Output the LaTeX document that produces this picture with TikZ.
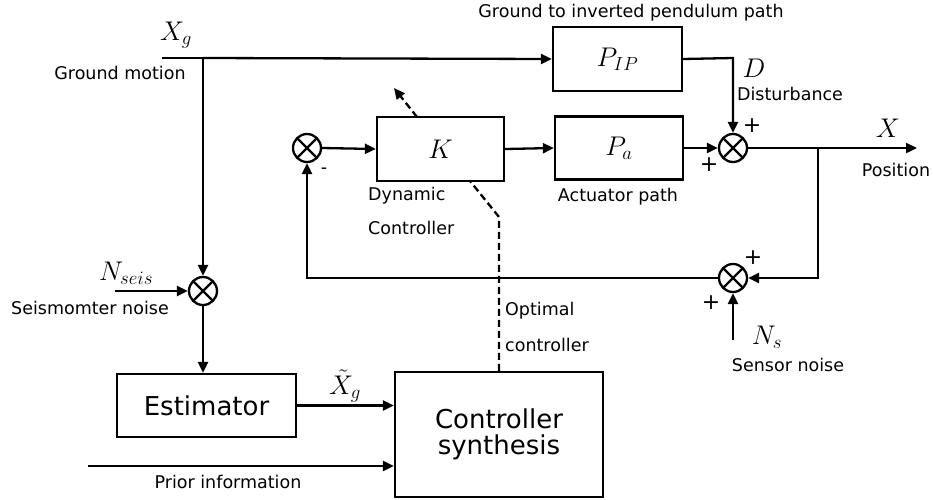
\RequirePackage{fix-cm}
\documentclass[tikz,border=0pt]{standalone}
\usepackage{fontspec}
\setsansfont{DejaVu Sans}
\usetikzlibrary{arrows.meta,calc}
\tikzset{
  lw/.style={line width=2.3pt},
  arr/.style={lw,-{Triangle[length=11pt,width=10pt]}},
  blk/.style={draw,lw,rectangle,inner sep=0pt},
  sumj/.style={draw,lw,circle,minimum size=28pt,inner sep=0pt,
    path picture={\draw[lw] (path picture bounding box.north west)--(path picture bounding box.south east)
      (path picture bounding box.north east)--(path picture bounding box.south west);}},
  lbl/.style={font=\sffamily\fontsize{17.5}{20}\selectfont,inner sep=0pt},
  big/.style={font=\sffamily\fontsize{26}{30}\selectfont,align=center},
  mth/.style={font=\fontsize{27}{30}\selectfont,inner sep=0pt},
  sgn/.style={font=\sffamily\fontsize{22}{24}\selectfont,inner sep=0pt},
  dsh/.style={lw,dash pattern=on 7pt off 4pt}
}
\begin{document}
\begin{tikzpicture}[x=1pt,y=-1pt]
\useasboundingbox (0,0) rectangle (933,499);
% blocks
\node[blk,minimum width=129pt,minimum height=64pt,mth] (pip) at (617.5,59) {$P_{IP}$};
\node[blk,minimum width=127pt,minimum height=64pt,mth] (k) at (440.5,149) {$K$};
\node[blk,minimum width=128pt,minimum height=63pt,mth] (pa) at (619,148) {$P_a$};
\node[blk,minimum width=179pt,minimum height=63pt,big] (est) at (206.5,405.5) {Estimator};
\node[blk,minimum width=208pt,minimum height=125pt,big] (cs) at (499,434.5) {Controller\\[-4pt]synthesis};
% junctions
\node[sumj] (j1) at (307,148) {};
\node[sumj] (j2) at (733,148) {};
\node[sumj] (j3) at (733,278) {};
\node[sumj] (js) at (203,291) {};
% coordinates
\coordinate (xg0) at (162,58);
\coordinate (split) at (203,58);
\coordinate (dcorner) at (733,58);
\coordinate (xsplit) at (818,148);
\coordinate (xend) at (917,148);
\coordinate (fbcorner) at (307,278);
\coordinate (fbturn) at (818,278);
\coordinate (ns0) at (733,340);
\coordinate (nseis0) at (115,291);
\coordinate (prior0) at (88,466);
\coordinate (dk1) at (499,217);
\coordinate (dk2) at (470,181);
\coordinate (tk0) at (417,117);
\coordinate (tk1) at (394,88);
% connectors
\draw[lw] (xg0) -- (split);
\draw[arr] (split) -- (pip.west);
\draw[arr] (split) -- (js.north);
\draw[arr] (pip.east) -- (dcorner) -- (j2.north);
\draw[arr] (j1.east) -- (k.west);
\draw[arr] (k.east) -- (pa.west);
\draw[arr] (pa.east) -- (j2.west);
\draw[arr] (j2.east) -- (xend);
\draw[arr] (xsplit) -- (fbturn) -- (j3.east);
\draw[arr] (j3.west) -- (fbcorner) -- (j1.south);
\draw[arr] (ns0) -- (j3.south);
\draw[arr] (nseis0) -- (js.west);
\draw[arr] (js.south) -- (js.south |- est.north);
\draw[arr] (est.east) -- (est.east -| cs.west);
\draw[arr] (prior0) -- (prior0 -| cs.west);
\draw[dsh] (cs.north) -- (dk1) -- (dk2);
\draw[dsh,-{Triangle[length=11pt,width=10pt]}] (tk0) -- (tk1);
% labels
\node[mth] (lxg) at (176,35) {$X_g$};
\node[lbl] (lgm) at (120,73) {Ground motion};
\node[lbl] (lgip) at (631,13) {Ground to inverted pendulum path};
\node[mth] (ld) at (754,68) {$D$};
\node[lbl] (ldist) at (790,94) {Disturbance};
\node[sgn] (p1) at (752,126) {+};
\node[sgn] (p2) at (709,165) {+};
\node[sgn] (p3) at (753,258) {+};
\node[sgn] (p4) at (711,303) {+};
\node[lbl] (mn) at (324,171) {-};
\node[mth] (lx) at (888,128) {$X$};
\node[lbl] (lpos) at (896,170) {Position};
\node[lbl] (lact) at (618,197) {Actuator path};
\node[lbl,anchor=west] (ldyn) at (368,196) {Dynamic};
\node[lbl,anchor=west] (lctl) at (368,228) {Controller};
\node[lbl,anchor=west] (lopt) at (505,311) {Optimal};
\node[lbl,anchor=west] (lctl2) at (505,345) {controller};
\node[mth] (lns) at (767,337) {$N_s$};
\node[lbl] (lsn) at (788,365) {Sensor noise};
\node[mth] (lnseis) at (126,273) {$N_{seis}$};
\node[lbl] (lsei) at (90,308) {Seismomter noise};
\node[mth,anchor=south] (lxt) at (345,402) {$\tilde{X}_g$};
\node[lbl] (lprior) at (228,482) {Prior information};
\end{tikzpicture}
\end{document}
